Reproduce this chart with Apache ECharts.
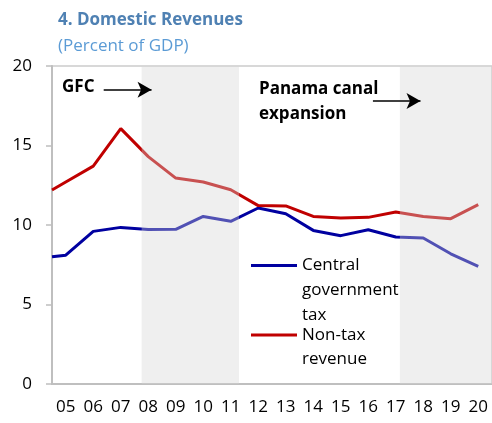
<!DOCTYPE html>
<html style="height: 100%">
<head>
    <meta charset="utf-8">
    <script src="https://cdn.jsdelivr.net/npm/echarts@6/dist/echarts.min.js"></script>
</head>
<body style="height:100%;margin:0">
    <div id="main" style="width:492px;height:423px;"></div>
    <script type="text/javascript">

        // years on the axis
        var years = ['05', '06', '07', '08', '09', '10', '11', '12', '13', '14', '15', '16', '17', '18', '19', '20'];
        // first value sits on the left edge of the plot (start of 05)
        var edgeTax = 8.0;
        var edgeNonTax = 12.2;
        var taxValues = [8.1, 9.6, 9.85, 9.72, 9.73, 10.54, 10.23, 11.07, 10.71, 9.66, 9.33, 9.7, 9.25, 9.18, 8.19, 7.4];
        var nonTaxValues = [12.7, 13.7, 16.06, 14.3, 12.95, 12.7, 12.22, 11.22, 11.2, 10.54, 10.44, 10.48, 10.82, 10.54, 10.4, 11.28];
        // shaded periods, in year-index units
        var shades = [[2.76, 6.30], [12.15, 15.5]];

        function toPoints(edge, vals) {
            var pts = [[-0.5, edge]];
            vals.forEach(function (v, i) { pts.push([i, v]); });
            return pts;
        }

        var font = 'Open Sans';
        var myChart = echarts.init(document.getElementById('main'));

        var option = {
            animation: false,
            textStyle: { fontFamily: font },
            title: [
                { text: '4. Domestic Revenues', left: 53, top: 7,
                  textStyle: { fontFamily: font, fontSize: 17, fontWeight: 'bold', color: '#4f81b3' } },
                { text: '(Percent of GDP)', left: 53, top: 33,
                  textStyle: { fontFamily: font, fontSize: 17, fontWeight: 'normal', color: '#5b9bd5' } }
            ],
            legend: [
                {
                    data: ['Central government tax'],
                    left: 251, top: 203, padding: 0,
                    icon: 'rect', itemWidth: 46, itemHeight: 3,
                    // leading blank lines put the first text line beside the icon
                    formatter: function () { return '\n\nCentral\ngovernment\ntax'; },
                    textStyle: { fontFamily: font, fontSize: 17, lineHeight: 25, color: '#000' }
                },
                {
                    data: ['Non-tax revenue'],
                    left: 251, top: 299, padding: 0,
                    icon: 'rect', itemWidth: 46, itemHeight: 3,
                    formatter: function () { return '\nNon-tax\nrevenue'; },
                    textStyle: { fontFamily: font, fontSize: 17, lineHeight: 24, color: '#000' }
                }
            ],
            grid: {
                left: 52, top: 66, width: 443, bottom: 39,
                show: true, borderColor: '#cccccc', borderWidth: 1.5
            },
            xAxis: [
                {
                    type: 'category', data: years, boundaryGap: true,
                    axisLine: { lineStyle: { color: '#bfbfbf', width: 2 } },
                    axisTick: { inside: true, length: 6, lineStyle: { color: '#bfbfbf', width: 1.5 } },
                    axisLabel: { fontSize: 17, color: '#000', margin: 15, interval: 0 }
                },
                { type: 'value', min: -0.5, max: 15.5, show: false }
            ],
            yAxis: {
                type: 'value', min: 0, max: 20, interval: 5,
                axisLine: { show: true, onZero: false, lineStyle: { color: '#bfbfbf', width: 2 } },
                axisTick: { show: true, length: 6, lineStyle: { color: '#bfbfbf', width: 1.5 } },
                axisLabel: { fontSize: 17, color: '#000', margin: 20 },
                splitLine: { show: false }
            },
            graphic: [
                { type: 'text', left: 62, top: 79,
                  style: { text: 'GFC', font: 'bold 17px "Open Sans"', fill: '#000' } },
                { type: 'text', left: 259, top: 77,
                  style: { text: 'Panama canal\nexpansion', font: 'bold 17px "Open Sans"', lineHeight: 25, fill: '#000' } }
            ],
            series: [
                {
                    name: 'Central government tax', type: 'line', xAxisIndex: 1,
                    data: toPoints(edgeTax, taxValues),
                    symbol: 'none', z: 2,
                    lineStyle: { color: '#0000a0', width: 3 },
                    itemStyle: { color: '#0000a0' }
                },
                {
                    name: 'Non-tax revenue', type: 'line', xAxisIndex: 1,
                    data: toPoints(edgeNonTax, nonTaxValues),
                    symbol: 'none', z: 2,
                    lineStyle: { color: '#c00000', width: 3 },
                    itemStyle: { color: '#c00000' }
                },
                {
                    name: 'shade', type: 'line', xAxisIndex: 1, data: [], z: 5,
                    markArea: {
                        silent: true, z: 10,
                        itemStyle: { color: 'rgba(213,213,213,0.38)' },
                        data: shades.map(function (s) { return [{ xAxis: s[0] }, { xAxis: s[1] }]; })
                    },
                    markLine: {
                        silent: true, z: 11,
                        symbol: ['none', 'arrow'], symbolSize: [12, 14],
                        label: { show: false },
                        lineStyle: { color: '#000', width: 1.5, type: 'solid' },
                        data: [
                            [{ coord: [1.38, 18.5] }, { coord: [3.12, 18.5] }],
                            [{ coord: [11.17, 17.8] }, { coord: [12.9, 17.8] }]
                        ]
                    }
                }
            ]
        };
        myChart.setOption(option);
    </script>
</body>
</html>
